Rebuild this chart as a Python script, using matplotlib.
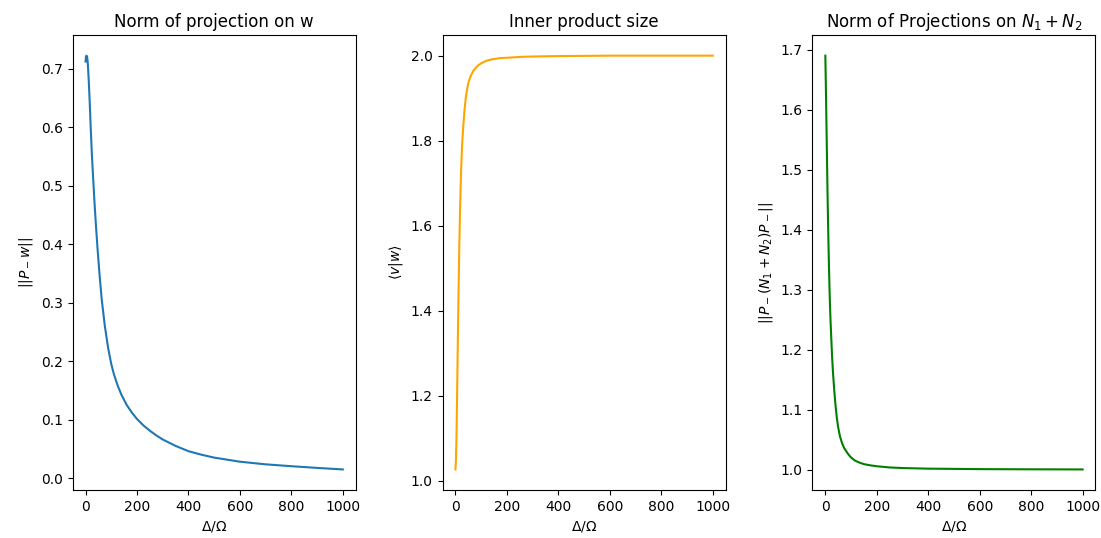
import numpy as np
import matplotlib.pyplot as plt

# Norme de la projection sur w
x_w = [0, 2, 4, 6, 8, 10, 13, 16, 20, 25, 30, 35, 40, 47, 55, 63, 75, 88, 100,
       110, 125, 140, 160, 180, 200, 225, 250, 275, 300, 350, 400, 450, 500,
       600, 700, 800, 900, 1000]
norm_w = [0.712, 0.721, 0.722, 0.72, 0.713, 0.70, 0.675, 0.645, 0.60, 0.55, 0.51,
          0.47, 0.435, 0.39, 0.345, 0.305, 0.26, 0.222, 0.195, 0.178, 0.158, 0.142,
          0.125, 0.112, 0.101, 0.09, 0.081, 0.073, 0.066, 0.055, 0.046, 0.04, 0.035,
          0.028, 0.0235, 0.0203, 0.0174, 0.0148]

# Produit scalaire <v|w>
x_vw = [0, 2, 4, 6, 8, 10, 12, 15, 18, 22, 26, 30, 35, 40, 45, 50, 55, 60, 70,
        80, 90, 100, 120, 140, 170, 200, 250, 300, 400, 600, 800, 1000]
inner_vw = [1.027, 1.05, 1.10, 1.18, 1.27, 1.36, 1.44, 1.55, 1.64, 1.73, 1.79, 1.83,
            1.87, 1.90, 1.92, 1.935, 1.945, 1.953, 1.965, 1.972, 1.978, 1.982, 1.988,
            1.991, 1.994, 1.995, 1.997, 1.998, 1.999, 2.0, 2.0, 2.0]

# Norme des projections sur N1 + N2
x_n = [0, 2, 4, 6, 8, 10, 12, 14, 16, 18, 20, 23, 26, 30, 35, 40, 45, 50, 57,
       65, 73, 82, 90, 100, 115, 130, 150, 175, 200, 250, 300, 400, 600, 800, 1000]
norm_n = [1.69, 1.64, 1.585, 1.53, 1.475, 1.425, 1.38, 1.34, 1.305, 1.275, 1.25,
          1.22, 1.19, 1.16, 1.13, 1.105, 1.085, 1.07, 1.055, 1.044, 1.036, 1.03,
          1.025, 1.02, 1.015, 1.012, 1.009, 1.007, 1.0055, 1.0035, 1.0025, 1.0015,
          1.0007, 1.0004, 1.0002]

fig, axes = plt.subplots(1, 3, figsize=(11.01, 5.38), dpi=100)
fig.subplots_adjust(left=0.066, right=0.995, top=0.935, bottom=0.089, wspace=0.307)

axes[0].plot(x_w, norm_w)
axes[0].set_title("Norm of projection on w")
axes[0].set_xlabel(r"$\Delta/\Omega$")
axes[0].set_ylabel(r"$||P_-w||$")

axes[1].plot(x_vw, inner_vw, color="orange")
axes[1].set_title("Inner product size")
axes[1].set_xlabel(r"$\Delta/\Omega$")
axes[1].set_ylabel(r"$\langle v|w\rangle$")

axes[2].plot(x_n, norm_n, color="green")
axes[2].set_title(r"Norm of Projections on $N_1+N_2$")
axes[2].set_xlabel(r"$\Delta/\Omega$")
axes[2].set_ylabel(r"$||P_-(N_1+N_2)P_-||$")

plt.savefig("out.png")
